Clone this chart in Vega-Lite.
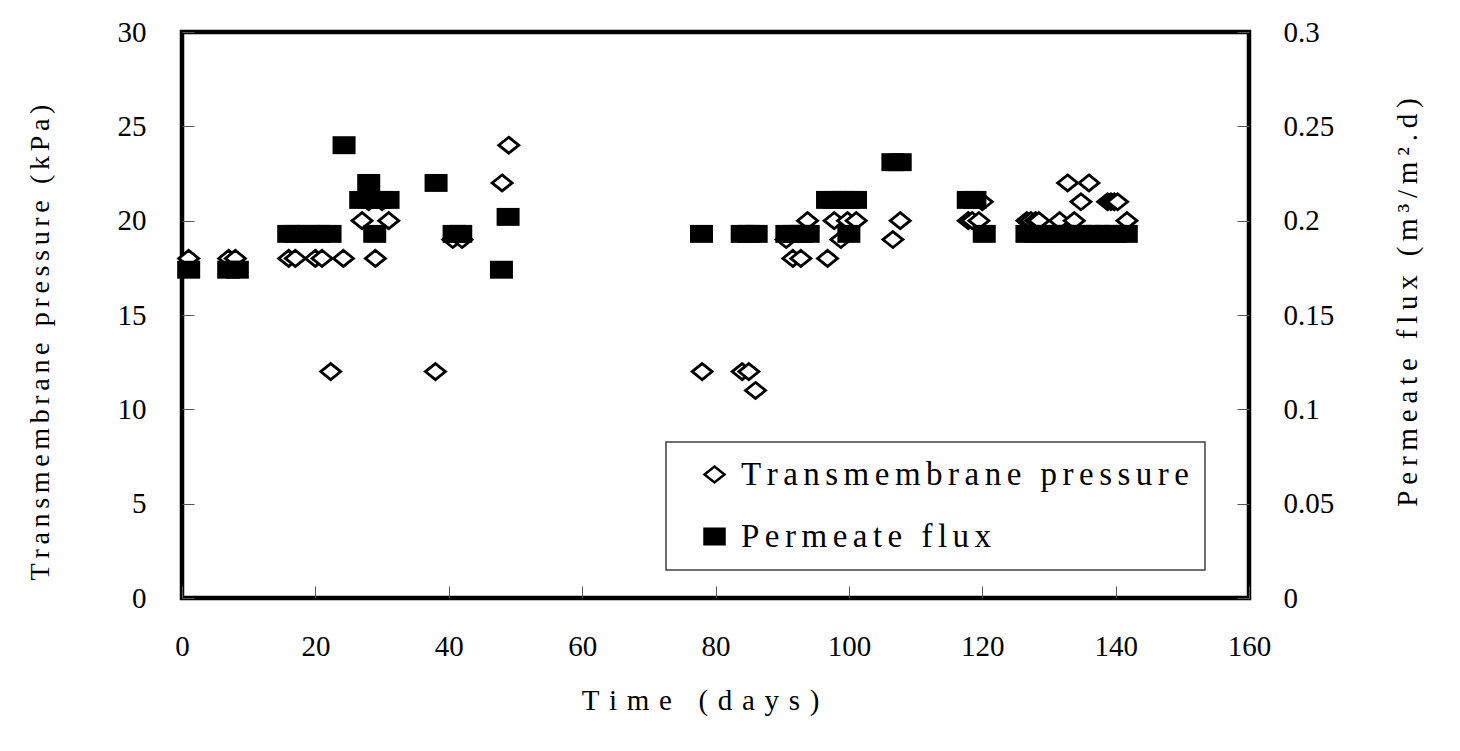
{
  "$schema": "https://vega.github.io/schema/vega-lite/v6.json",
  "autosize": {"type": "none"},
  "padding": {"left": 182, "top": 32, "right": 211, "bottom": 153},
  "width": 1067,
  "height": 566,
  "background": "white",
  "datasets": {
    "membrane": [
      {"day": 1, "series": "Transmembrane pressure", "value": 18},
      {"day": 7, "series": "Transmembrane pressure", "value": 18},
      {"day": 8, "series": "Transmembrane pressure", "value": 18},
      {"day": 16, "series": "Transmembrane pressure", "value": 18},
      {"day": 17, "series": "Transmembrane pressure", "value": 18},
      {"day": 20, "series": "Transmembrane pressure", "value": 18},
      {"day": 21, "series": "Transmembrane pressure", "value": 18},
      {"day": 22.3, "series": "Transmembrane pressure", "value": 12},
      {"day": 24.2, "series": "Transmembrane pressure", "value": 18},
      {"day": 27, "series": "Transmembrane pressure", "value": 20},
      {"day": 28, "series": "Transmembrane pressure", "value": 21},
      {"day": 29, "series": "Transmembrane pressure", "value": 18},
      {"day": 30, "series": "Transmembrane pressure", "value": 21},
      {"day": 31, "series": "Transmembrane pressure", "value": 20},
      {"day": 38, "series": "Transmembrane pressure", "value": 12},
      {"day": 40.6, "series": "Transmembrane pressure", "value": 19},
      {"day": 42, "series": "Transmembrane pressure", "value": 19},
      {"day": 48, "series": "Transmembrane pressure", "value": 22},
      {"day": 49, "series": "Transmembrane pressure", "value": 24},
      {"day": 78, "series": "Transmembrane pressure", "value": 12},
      {"day": 84, "series": "Transmembrane pressure", "value": 12},
      {"day": 85, "series": "Transmembrane pressure", "value": 12},
      {"day": 86, "series": "Transmembrane pressure", "value": 11},
      {"day": 90.6, "series": "Transmembrane pressure", "value": 19},
      {"day": 91.6, "series": "Transmembrane pressure", "value": 18},
      {"day": 92.8, "series": "Transmembrane pressure", "value": 18},
      {"day": 93.8, "series": "Transmembrane pressure", "value": 20},
      {"day": 96.8, "series": "Transmembrane pressure", "value": 18},
      {"day": 97.8, "series": "Transmembrane pressure", "value": 20},
      {"day": 98.8, "series": "Transmembrane pressure", "value": 19},
      {"day": 99.8, "series": "Transmembrane pressure", "value": 20},
      {"day": 101.1, "series": "Transmembrane pressure", "value": 20},
      {"day": 106.6, "series": "Transmembrane pressure", "value": 19},
      {"day": 107.7, "series": "Transmembrane pressure", "value": 20},
      {"day": 117.9, "series": "Transmembrane pressure", "value": 20},
      {"day": 118.5, "series": "Transmembrane pressure", "value": 20},
      {"day": 119.5, "series": "Transmembrane pressure", "value": 20},
      {"day": 120, "series": "Transmembrane pressure", "value": 21},
      {"day": 126.7, "series": "Transmembrane pressure", "value": 20},
      {"day": 127.3, "series": "Transmembrane pressure", "value": 20},
      {"day": 128, "series": "Transmembrane pressure", "value": 20},
      {"day": 128.5, "series": "Transmembrane pressure", "value": 20},
      {"day": 131.6, "series": "Transmembrane pressure", "value": 20},
      {"day": 132.8, "series": "Transmembrane pressure", "value": 22},
      {"day": 133.8, "series": "Transmembrane pressure", "value": 20},
      {"day": 134.8, "series": "Transmembrane pressure", "value": 21},
      {"day": 136, "series": "Transmembrane pressure", "value": 22},
      {"day": 138.8, "series": "Transmembrane pressure", "value": 21},
      {"day": 139.3, "series": "Transmembrane pressure", "value": 21},
      {"day": 139.8, "series": "Transmembrane pressure", "value": 21},
      {"day": 140.3, "series": "Transmembrane pressure", "value": 21},
      {"day": 141.7, "series": "Transmembrane pressure", "value": 20},
      {"day": 1, "series": "Permeate flux", "value": 0.174},
      {"day": 7, "series": "Permeate flux", "value": 0.174},
      {"day": 8.3, "series": "Permeate flux", "value": 0.174},
      {"day": 16, "series": "Permeate flux", "value": 0.193},
      {"day": 17, "series": "Permeate flux", "value": 0.193},
      {"day": 19, "series": "Permeate flux", "value": 0.193},
      {"day": 20.5, "series": "Permeate flux", "value": 0.193},
      {"day": 22.2, "series": "Permeate flux", "value": 0.193},
      {"day": 24.3, "series": "Permeate flux", "value": 0.24},
      {"day": 26.8, "series": "Permeate flux", "value": 0.211},
      {"day": 28.2, "series": "Permeate flux", "value": 0.211},
      {"day": 29.6, "series": "Permeate flux", "value": 0.211},
      {"day": 30.9, "series": "Permeate flux", "value": 0.211},
      {"day": 28, "series": "Permeate flux", "value": 0.22},
      {"day": 28.9, "series": "Permeate flux", "value": 0.193},
      {"day": 38.1, "series": "Permeate flux", "value": 0.22},
      {"day": 40.8, "series": "Permeate flux", "value": 0.193},
      {"day": 41.8, "series": "Permeate flux", "value": 0.193},
      {"day": 47.9, "series": "Permeate flux", "value": 0.174},
      {"day": 48.9, "series": "Permeate flux", "value": 0.202},
      {"day": 77.9, "series": "Permeate flux", "value": 0.193},
      {"day": 84, "series": "Permeate flux", "value": 0.193},
      {"day": 85, "series": "Permeate flux", "value": 0.193},
      {"day": 86.1, "series": "Permeate flux", "value": 0.193},
      {"day": 90.7, "series": "Permeate flux", "value": 0.193},
      {"day": 91.8, "series": "Permeate flux", "value": 0.193},
      {"day": 92.9, "series": "Permeate flux", "value": 0.193},
      {"day": 93.9, "series": "Permeate flux", "value": 0.193},
      {"day": 96.8, "series": "Permeate flux", "value": 0.211},
      {"day": 97.9, "series": "Permeate flux", "value": 0.211},
      {"day": 99, "series": "Permeate flux", "value": 0.211},
      {"day": 100, "series": "Permeate flux", "value": 0.211},
      {"day": 101, "series": "Permeate flux", "value": 0.211},
      {"day": 100, "series": "Permeate flux", "value": 0.193},
      {"day": 106.6, "series": "Permeate flux", "value": 0.231},
      {"day": 107.7, "series": "Permeate flux", "value": 0.231},
      {"day": 117.9, "series": "Permeate flux", "value": 0.211},
      {"day": 118.9, "series": "Permeate flux", "value": 0.211},
      {"day": 120.3, "series": "Permeate flux", "value": 0.193},
      {"day": 126.7, "series": "Permeate flux", "value": 0.193},
      {"day": 128, "series": "Permeate flux", "value": 0.193},
      {"day": 129.3, "series": "Permeate flux", "value": 0.193},
      {"day": 130.6, "series": "Permeate flux", "value": 0.193},
      {"day": 132, "series": "Permeate flux", "value": 0.193},
      {"day": 133.3, "series": "Permeate flux", "value": 0.193},
      {"day": 134.6, "series": "Permeate flux", "value": 0.193},
      {"day": 136, "series": "Permeate flux", "value": 0.193},
      {"day": 137.3, "series": "Permeate flux", "value": 0.193},
      {"day": 138.6, "series": "Permeate flux", "value": 0.193},
      {"day": 140, "series": "Permeate flux", "value": 0.193},
      {"day": 141.6, "series": "Permeate flux", "value": 0.193}
    ]
  },
  "data": {"name": "membrane"},
  "encoding": {
    "x": {
      "field": "day",
      "type": "quantitative",
      "scale": {"domain": [0, 160], "nice": false, "zero": false},
      "axis": {
        "values": [0, 20, 40, 60, 80, 100, 120, 140, 160],
        "labelFlush": false,
        "labelPadding": 46,
        "title": "T\u2004i\u2004m\u2004e\u2004 \u2004(\u2004d\u2004a\u2004y\u2004s\u2004)",
        "titleFontSize": 29,
        "titlePadding": 25,
        "titleX": 518
      }
    },
    "shape": {
      "field": "series",
      "type": "nominal",
      "scale": {
        "domain": ["Transmembrane pressure", "Permeate flux"],
        "range": ["M0,-0.8L1,0L0,0.8L-1,0Z", "M-1,-0.78H1V0.78H-1Z"]
      },
      "legend": {
        "title": null,
        "labelExpr": "join(split(datum.label, ''), '\u2006') + ' \u2006'"
      }
    },
    "fill": {
      "field": "series",
      "type": "nominal",
      "scale": {
        "domain": ["Transmembrane pressure", "Permeate flux"],
        "range": ["white", "black"]
      },
      "legend": {
        "title": null,
        "labelExpr": "join(split(datum.label, ''), '\u2006') + ' \u2006'"
      }
    },
    "stroke": {
      "field": "series",
      "type": "nominal",
      "scale": {
        "domain": ["Transmembrane pressure", "Permeate flux"],
        "range": ["black", "black"]
      },
      "legend": {
        "title": null,
        "labelExpr": "join(split(datum.label, ''), '\u2006') + ' \u2006'"
      }
    }
  },
  "layer": [
    {
      "transform": [{"filter": "datum.series === 'Transmembrane pressure'"}],
      "mark": {"type": "point", "filled": true, "size": 400, "strokeWidth": 2.8, "opacity": 1},
      "encoding": {
        "y": {
          "field": "value",
          "type": "quantitative",
          "scale": {"domain": [0, 30], "nice": false},
          "axis": {
            "orient": "left",
            "values": [0, 5, 10, 15, 20, 25, 30],
            "labelPadding": 48,
            "title": "T\u2006r\u2006a\u2006n\u2006s\u2006m\u2006e\u2006m\u2006b\u2006r\u2006a\u2006n\u2006e\u2006 \u2006p\u2006r\u2006e\u2006s\u2006s\u2006u\u2006r\u2006e\u2006 \u2006(\u2006k\u2006P\u2006a\u2006)",
            "titlePadding": 63,
            "titleY": 310
          }
        }
      }
    },
    {
      "transform": [{"filter": "datum.series === 'Permeate flux'"}],
      "mark": {"type": "point", "filled": true, "size": 529, "strokeWidth": 0, "opacity": 1},
      "encoding": {
        "y": {
          "field": "value",
          "type": "quantitative",
          "scale": {"domain": [0, 0.3], "nice": false},
          "axis": {
            "orient": "right",
            "values": [0, 0.05, 0.1, 0.15, 0.2, 0.25, 0.3],
            "format": ".2~f",
            "labelPadding": 46,
            "title": "P\u2009e\u2009r\u2009m\u2009e\u2009a\u2009t\u2009e\u2009 \u2009f\u2009l\u2009u\u2009x\u2009 \u2009(\u2009m\u2009\u00b3\u2009/\u2009m\u2009\u00b2\u2009.\u2009d\u2009)",
            "titleAngle": 270,
            "titleBaseline": "top",
            "titleFontSize": 29,
            "titlePadding": 60,
            "titleY": 270
          }
        }
      }
    }
  ],
  "resolve": {"scale": {"y": "independent"}},
  "config": {
    "font": "Liberation Serif",
    "view": {"stroke": "black", "strokeWidth": 4.5},
    "axis": {
      "domain": false,
      "grid": false,
      "ticks": true,
      "tickSize": -12,
      "tickColor": "#555555",
      "tickWidth": 1,
      "labelFont": "Liberation Serif",
      "labelFontSize": 29,
      "labelColor": "black",
      "titleFont": "Liberation Serif",
      "titleFontSize": 28,
      "titleFontWeight": "normal",
      "titleColor": "black"
    },
    "legend": {
      "orient": "none",
      "legendX": 484,
      "legendY": 410,
      "direction": "vertical",
      "strokeColor": "#404040",
      "strokeWidth": 1.5,
      "fillColor": "white",
      "padding": 16,
      "rowPadding": 28,
      "symbolSize": 400,
      "symbolStrokeWidth": 2.5,
      "symbolOffset": 16,
      "labelOffset": 10,
      "labelFont": "Liberation Serif",
      "labelFontSize": 33,
      "labelColor": "black",
      "labelLimit": 700
    }
  }
}
